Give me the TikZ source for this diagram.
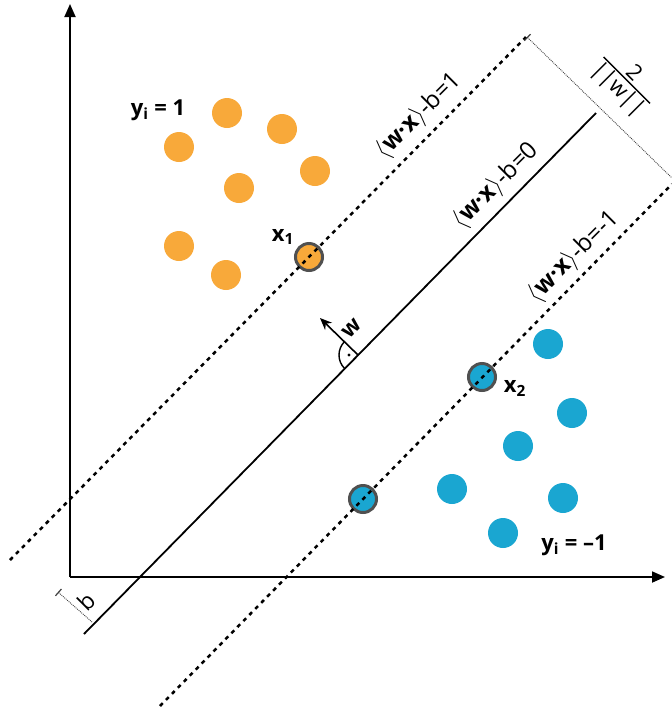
\documentclass[tikz,border=0pt]{standalone}
\usepackage{amsmath}
\usepackage{fontspec}
\setmainfont{Open Sans}
\usetikzlibrary{arrows.meta}
\definecolor{ptorange}{HTML}{F8A93A}
\definecolor{ptblue}{HTML}{1AA6D1}
\definecolor{svgray}{HTML}{505050}
\tikzset{
  opoint/.style={circle, fill=ptorange, minimum size=30pt, inner sep=0pt},
  bpoint/.style={circle, fill=ptblue, minimum size=30pt, inner sep=0pt},
  support/.style={draw=svgray, line width=3pt, minimum size=27pt},
  margin/.style={line width=2.5pt, dash pattern=on 4pt off 4.5pt},
  dimline/.style={densely dotted, line width=0.9pt, black!75},
  eqlabel/.style={rotate=45, font=\fontsize{24}{28}\selectfont},
  classlabel/.style={font=\fontsize{22}{26}\selectfont\bfseries},
}
\begin{document}
\begin{tikzpicture}[x=1pt, y=-1pt, >={Triangle[length=13pt, width=11pt]}]
    \useasboundingbox (0,0) rectangle (672,713);
    % tacke klase y=1, x1 lezi na margini
    \foreach \x/\y [count=\i] in {227/113, 282/129, 179/147, 315/171, 239/188, 179/246, 226/275}{
        \node [opoint] (o\i) at (\x,\y) {};
    }
    \node [opoint, support] (x1) at (309,257) {};
    % tacke klase y=-1, x2 i x3 leze na margini
    \foreach \x/\y [count=\i] in {548/344, 572/413, 518/446, 452/489, 563/498, 503/533}{
        \node [bpoint] (b\i) at (\x,\y) {};
    }
    \node [bpoint, support] (x2) at (482,377) {};
    \node [bpoint, support] (x3) at (363,499) {};
    % ose
    \coordinate (O) at (70,577);
    \coordinate (ytop) at (70,4);
    \coordinate (xend) at (665,577);
    \draw [line width=1.8pt, ->] (O) -- (ytop);
    \draw [line width=1.8pt, ->] (O) -- (xend);
    % hiperravan i margine
    \coordinate (m1a) at (10,560);  \coordinate (m1b) at (526,37);
    \coordinate (h0a) at (84,634);  \coordinate (h0b) at (596,113);
    \coordinate (m2a) at (160,706); \coordinate (m2b) at (672,184);
    \draw [margin] (m1a) -- (m1b);
    \draw [line width=1.8pt] (h0a) -- (h0b);
    \draw [margin] (m2a) -- (m2b);
    \node [eqlabel] (e1) at (419,116) {\(\langle\)\textbf{w·x}\(\rangle\)-b=1};
    \node [eqlabel] (e0) at (496,186) {\(\langle\)\textbf{w·x}\(\rangle\)-b=0};
    \node [eqlabel] (e2) at (574,257) {\(\langle\)\textbf{w·x}\(\rangle\)-b=-1};
    % sirina margine
    \coordinate (d1) at (527,37);
    \coordinate (d2) at (672,178);
    \draw [dimline, {Bar[width=9pt, line width=1.2pt]}-] (d1) -- (d2);
    \node [rotate=-45, font=\fontsize{22}{26}\selectfont] (frac) at (625,82)
        {\(\genfrac{}{}{1.4pt}{}{\mbox{2}}{\mbox{||w||}}\)};
    % pomeraj b
    \coordinate (b0) at (58,592);
    \coordinate (bh) at (92,622);
    \draw [dimline, {Bar[width=9pt, line width=1.2pt]}-] (b0) -- (bh);
    \node [rotate=45, font=\fontsize{23}{26}\selectfont] (blab) at (86,601) {b};
    % vektor w i prav ugao
    \coordinate (foot) at (358,355);
    \coordinate (wtip) at (320,318);
    \draw [line width=1.6pt, -{Stealth[length=12pt, width=10pt]}] (foot) -- (wtip);
    \draw [line width=1.4pt] (foot) ++(225:19) arc[start angle=225, end angle=135, radius=19];
    \fill (foot) ++(180:9) circle[radius=1.7pt];
    \node [rotate=45, font=\fontsize{22}{26}\selectfont\bfseries] (wlab) at (352,329) {w};
    % oznake
    \node [classlabel] (c1) at (158,110) {y\textsubscript{i} = 1};
    \node [classlabel] (c2) at (574,545) {y\textsubscript{i} = –1};
    \node [classlabel] (l1) at (283,237) {x\textsubscript{1}};
    \node [classlabel] (l2) at (515,388) {x\textsubscript{2}};
\end{tikzpicture}
\end{document}
